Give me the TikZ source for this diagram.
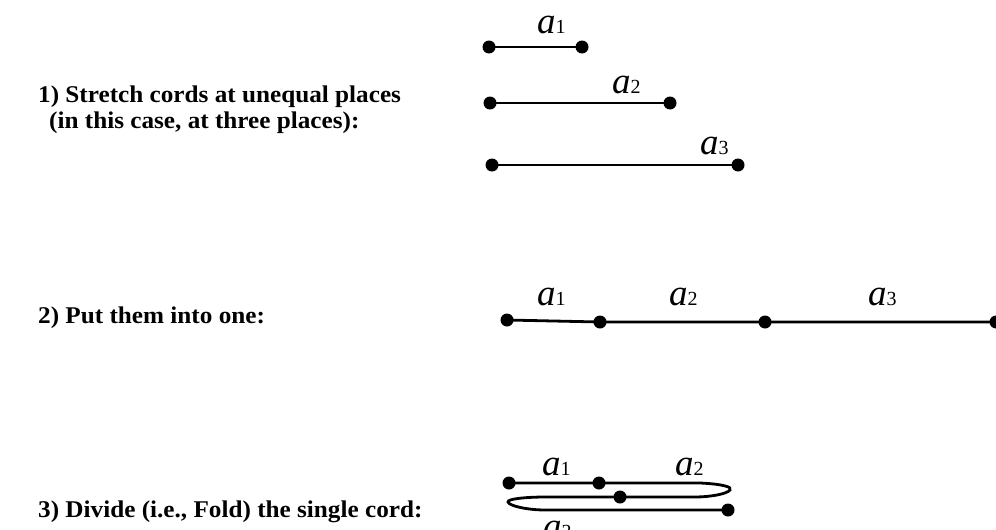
\documentclass[tikz,border=0pt]{standalone}
\usepackage{fontspec}
\setmainfont{Liberation Serif}
\newfontfamily\capfont[FakeStretch=1.05]{Liberation Serif}
\begin{document}
\begin{tikzpicture}[x=1pt,y=-1pt,
  dot/.style={circle,fill=black,inner sep=0pt,minimum size=13pt},
  cord/.style={line width=2.8pt},
  caption/.style={anchor=base west,inner sep=0pt,font=\capfont\fontsize{24}{28}\selectfont\bfseries},
  lbl/.style={anchor=base west,inner sep=0pt}]
\useasboundingbox (0,0) rectangle (996,530);
\newcommand{\seg}[1]{{\fontsize{37}{37}\selectfont\itshape a}{\fontsize{20}{20}\selectfont #1}}
% captions
\node[caption] (t1) at (38,102) {1) Stretch cords at unequal places};
\node[caption] (t1b) at (49,128) {(in this case, at three places):};
\node[caption] (t2) at (38,323) {2) Put them into one:};
\node[caption] (t3) at (38,517) {3) Divide (i.e., Fold) the single cord:};
% row 1
\node[dot] (p1a) at (489,47) {};
\node[dot] (p1b) at (582,47) {};
\draw[cord] (p1a.center) -- (p1b.center);
\node[lbl] (l1) at (537,33) {\seg{1}};
\node[dot] (p2a) at (490,103) {};
\node[dot] (p2b) at (670,103) {};
\draw[cord] (p2a.center) -- (p2b.center);
\node[lbl] (l2) at (612,93) {\seg{2}};
\node[dot] (p3a) at (492,165) {};
\node[dot] (p3b) at (738,165) {};
\draw[cord] (p3a.center) -- (p3b.center);
\node[lbl] (l3) at (700,154) {\seg{3}};
% row 2
\node[dot] (q1) at (507,320) {};
\node[dot] (q2) at (600,322) {};
\node[dot] (q3) at (765,322) {};
\node[dot] (q4) at (996,322) {};
\draw[cord] (q1.center) -- (q2.center) -- (q3.center) -- (q4.center);
\node[lbl] (m1) at (537,305) {\seg{1}};
\node[lbl] (m2) at (669,305) {\seg{2}};
\node[lbl] (m3) at (868,305) {\seg{3}};
% row 3
\node[dot] (r1) at (509,483) {};
\node[dot] (r2) at (599,483) {};
\node[dot] (r3) at (620,497) {};
\node[dot] (r4) at (728,510) {};
\draw[cord] (r1.center) -- (r2.center) -- (700,483)
  .. controls (722,484) and (733,487) .. (730,490)
  .. controls (727,494) and (710,497) .. (695,497)
  -- (r3.center) -- (546,497)
  .. controls (525,497) and (507,499) .. (508,502)
  .. controls (509,506) and (528,510) .. (545,510)
  -- (r4.center);
\node[lbl] (n1) at (542,475) {\seg{1}};
\node[lbl] (n2) at (675,475) {\seg{2}};
\node[lbl] (n3) at (543,538) {\seg{3}};
\end{tikzpicture}
\end{document}
